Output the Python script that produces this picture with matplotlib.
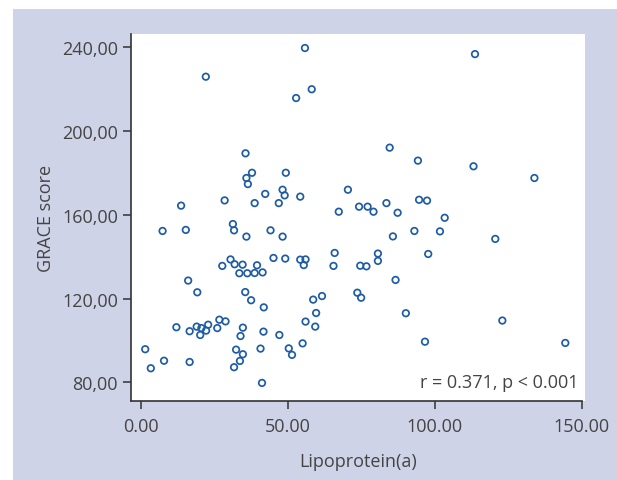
import matplotlib
matplotlib.use("Agg")
import matplotlib.pyplot as plt
from matplotlib.patches import Rectangle
from matplotlib.ticker import FuncFormatter

lipoprotein_a = [
    55.9, 113.7, 22.2, 58.2, 52.9, 84.7, 35.7, 94.3, 113.2, 37.9,
    49.4, 133.9, 36.0, 36.5, 70.5, 48.3, 42.4, 49.0, 54.3, 28.6,
    94.7, 97.4, 38.8, 47.0, 83.6, 13.8, 74.3, 77.2, 79.2, 67.4,
    87.4, 103.4, 31.4, 7.5, 15.4, 31.8, 44.2, 93.1, 101.8, 36.0,
    48.3, 85.8, 120.6, 66.0, 80.7, 97.8, 30.6, 45.2, 49.2, 54.3,
    56.1, 32.0, 34.7, 27.8, 39.6, 55.5, 65.6, 74.7, 76.8, 80.7,
    33.6, 36.3, 38.8, 41.5, 16.2, 86.7, 19.3, 35.6, 73.7, 75.0,
    37.6, 61.7, 58.7, 41.9, 59.7, 90.2, 26.8, 28.9, 56.1, 123.0,
    12.2, 19.1, 23.0, 20.7, 16.7, 22.3, 26.1, 20.3, 34.8, 34.0,
    41.8, 47.2, 59.4, 96.7, 144.4, 55.1, 1.6, 32.5, 40.8, 50.4,
    34.8, 51.5, 8.0, 16.7, 33.8, 3.5, 31.8, 41.3,
]
grace_score = [
    239.7, 236.8, 226.0, 220.0, 215.8, 192.1, 189.4, 185.9, 183.2, 180.1,
    180.1, 177.6, 177.6, 174.7, 172.0, 172.0, 170.0, 169.3, 168.7, 166.9,
    167.2, 166.8, 165.6, 165.6, 165.6, 164.4, 163.9, 163.9, 161.5, 161.5,
    161.0, 158.6, 155.6, 152.3, 152.8, 152.6, 152.6, 152.3, 152.1, 149.6,
    149.6, 149.7, 148.5, 141.8, 141.5, 141.3, 138.7, 139.4, 139.1, 138.6,
    138.7, 136.4, 136.2, 135.6, 135.9, 136.0, 135.6, 135.7, 135.4, 138.0,
    132.1, 132.1, 132.2, 132.5, 128.6, 128.9, 123.0, 123.1, 122.8, 120.4,
    119.2, 121.2, 119.5, 115.8, 113.1, 113.0, 109.9, 109.1, 109.0, 109.5,
    106.3, 106.6, 107.5, 105.9, 104.4, 104.7, 105.9, 102.6, 106.1, 102.1,
    104.2, 102.6, 106.6, 99.4, 98.8, 98.6, 95.8, 95.6, 96.1, 96.2,
    93.4, 93.1, 90.3, 89.7, 90.2, 86.7, 87.2, 79.7,
]
x_ticks = [0, 50, 100, 150]
y_ticks = [80, 120, 160, 200, 240]
x_label = "Lipoprotein(a)"
y_label = "GRACE score"
annotation = "r = 0.371, p < 0.001"

plt.rcParams['font.family'] = ['Open Sans', 'DejaVu Sans']
text_color = '#444444'
spine_color = '#333333'
bg_color = '#cfd3e7'
marker_color = '#1f5ca6'

W, H = 617, 481
fig = plt.figure(figsize=(W / 100, H / 100), dpi=100)
fig.patch.set_facecolor('white')
bg = Rectangle((13 / W, 0), 1 - 13 / W, 1 - 10 / H,
               transform=fig.transFigure, facecolor=bg_color,
               edgecolor='none', zorder=-10)
fig.add_artist(bg)

left, right, top, bottom = 130.5, 585, 35, 401.5
ax = fig.add_axes([left / W, 1 - bottom / H, (right - left) / W, (bottom - top) / H])
ax.set_facecolor('white')
ax.set_zorder(1)

ax.scatter(lipoprotein_a, grace_score, s=22, facecolors='none',
           edgecolors=marker_color, linewidths=1.25, zorder=3)

ax.set_xlim(-3.4, 151.1)
ax.set_ylim(71.3, 246.4)
ax.set_xticks(x_ticks)
ax.set_yticks(y_ticks)
ax.xaxis.set_major_formatter(FuncFormatter(lambda v, p: f"{v:.2f}"))
ax.yaxis.set_major_formatter(FuncFormatter(lambda v, p: f"{v:.2f}".replace('.', ',')))

for s in ['top', 'right']:
    ax.spines[s].set_visible(False)
for s in ['left', 'bottom']:
    ax.spines[s].set_color(spine_color)
    ax.spines[s].set_linewidth(1.2)
ax.spines['bottom'].set_bounds(-3.4, 150)

ax.tick_params(axis='both', direction='out', length=6, width=1.1,
               color=spine_color, labelcolor=text_color, labelsize=13, pad=3)
ax.tick_params(axis='x', pad=6)

ax.set_xlabel(x_label, fontsize=13, color=text_color, labelpad=12)
ax.set_ylabel(y_label, fontsize=13, color=text_color, labelpad=5)

ax.text(0.985, 0.025, annotation, transform=ax.transAxes, ha='right', va='bottom',
        fontsize=13, color=text_color)

fig.savefig("out.png", dpi=100, facecolor=fig.get_facecolor())
